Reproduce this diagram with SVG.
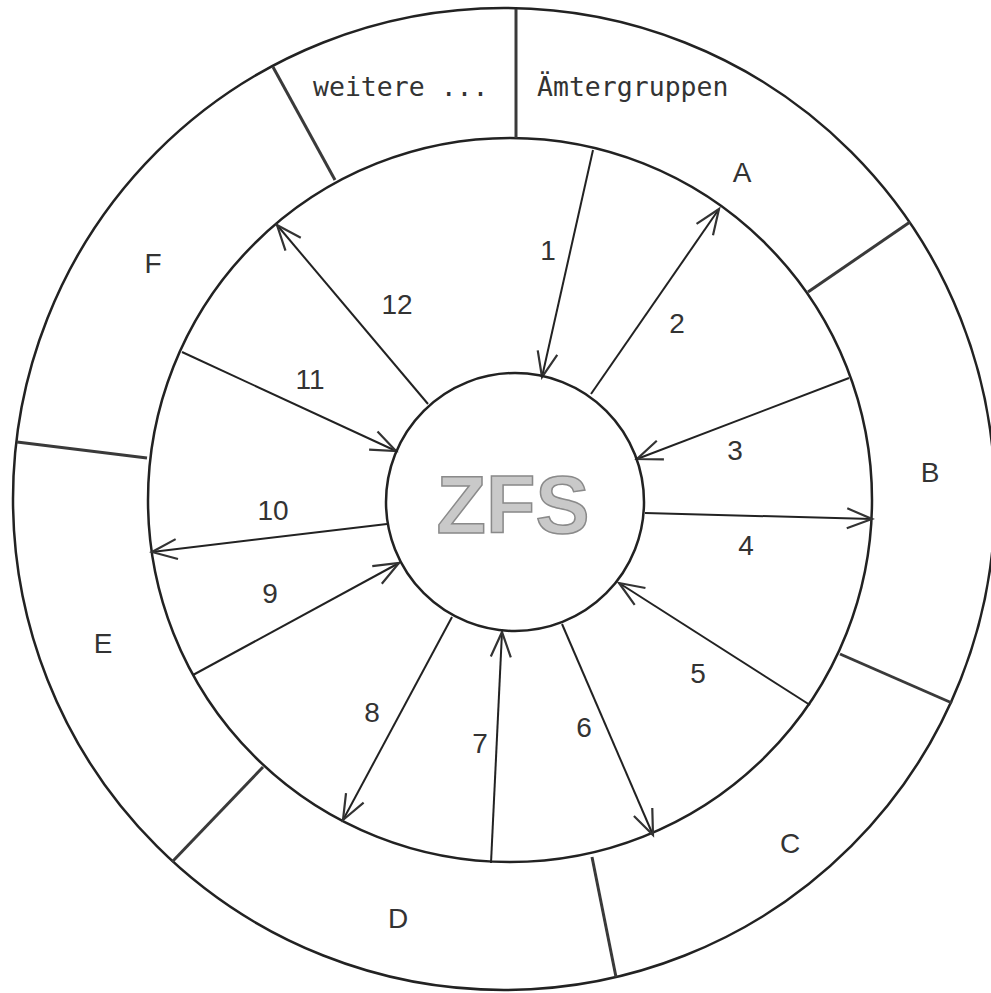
<svg xmlns="http://www.w3.org/2000/svg" width="991" height="993" viewBox="0 0 991 993">
<defs>
<style>
.ring{fill:none;stroke:#222;stroke-width:2.5}
.div{fill:none;stroke:#3a3a3a;stroke-width:3}
.arr{fill:none;stroke:#222;stroke-width:2;marker-end:url(#ah)}
.lbl{font-family:"Liberation Sans Narrow","Liberation Sans",Arial,sans-serif;font-size:28px;fill:#333;text-anchor:middle}
.mono{font-family:"DejaVu Sans Mono","Liberation Mono",monospace;font-size:26.5px;fill:#333}
.zfs{font-family:"Liberation Sans",Arial,sans-serif;font-weight:bold;font-size:81px;fill:#c9c9c9;stroke:#8a8a8a;stroke-width:1.5;text-anchor:middle}
</style>
<marker id="ah" viewBox="-28 -12 32 24" refX="0" refY="0" markerWidth="32" markerHeight="24" markerUnits="userSpaceOnUse" orient="auto">
<path d="M-25,-10 L0,0 L-25,10" fill="none" stroke="#333" stroke-width="2.2"/>
</marker>
</defs>
<rect width="991" height="993" fill="#fff"/>
<g id="rings">
<circle class="ring" cx="504" cy="499" r="491"/>
<circle class="ring" cx="510" cy="500" r="362"/>
</g>
<g id="dividers">
<line class="div" x1="516" y1="9" x2="516" y2="138"/>
<line class="div" x1="273" y1="67" x2="335" y2="180"/>
<line class="div" x1="910" y1="222" x2="808" y2="292"/>
<line class="div" x1="17" y1="442" x2="147" y2="458"/>
<line class="div" x1="172" y1="862" x2="263" y2="767"/>
<line class="div" x1="592" y1="857" x2="616" y2="977"/>
<line class="div" x1="840" y1="654" x2="952" y2="703"/>
</g>
<g id="connectors">
<line class="arr" x1="593" y1="150" x2="542" y2="377"/>
<line class="arr" x1="591" y1="394" x2="719" y2="209"/>
<line class="arr" x1="849" y1="378" x2="637" y2="459"/>
<line class="arr" x1="645" y1="513" x2="872" y2="519"/>
<line class="arr" x1="810" y1="705" x2="619" y2="583"/>
<line class="arr" x1="562" y1="624" x2="653" y2="835"/>
<line class="arr" x1="491" y1="863" x2="502" y2="632"/>
<line class="arr" x1="452" y1="617" x2="343" y2="820"/>
<line class="arr" x1="193" y1="675" x2="399" y2="563"/>
<line class="arr" x1="387" y1="524" x2="152" y2="552"/>
<line class="arr" x1="182" y1="352" x2="396" y2="451"/>
<line class="arr" x1="428" y1="404" x2="277" y2="225"/>
</g>
<g id="zfs">
<circle class="ring" cx="515" cy="502" r="129"/>
<text class="zfs" x="513" y="533">ZFS</text>
</g>
<g id="group-A"><text class="lbl" x="742" y="182">A</text></g>
<g id="group-B"><text class="lbl" x="930" y="482">B</text></g>
<g id="group-C"><text class="lbl" x="790" y="853">C</text></g>
<g id="group-D"><text class="lbl" x="398" y="928">D</text></g>
<g id="group-E"><text class="lbl" x="103" y="653">E</text></g>
<g id="group-F"><text class="lbl" x="153" y="273">F</text></g>
<g id="group-more">
<text class="mono" x="313" y="96">weitere ...</text>
<text class="mono" x="537" y="96">Ämtergruppen</text>
</g>
<g id="numbers">
<text class="lbl" x="548" y="260">1</text>
<text class="lbl" x="677" y="333">2</text>
<text class="lbl" x="735" y="460">3</text>
<text class="lbl" x="746" y="555">4</text>
<text class="lbl" x="698" y="683">5</text>
<text class="lbl" x="584" y="737">6</text>
<text class="lbl" x="480" y="753">7</text>
<text class="lbl" x="372" y="722">8</text>
<text class="lbl" x="270" y="603">9</text>
<text class="lbl" x="273" y="520">10</text>
<text class="lbl" x="310" y="389">11</text>
<text class="lbl" x="397" y="314">12</text>
</g>
</svg>
